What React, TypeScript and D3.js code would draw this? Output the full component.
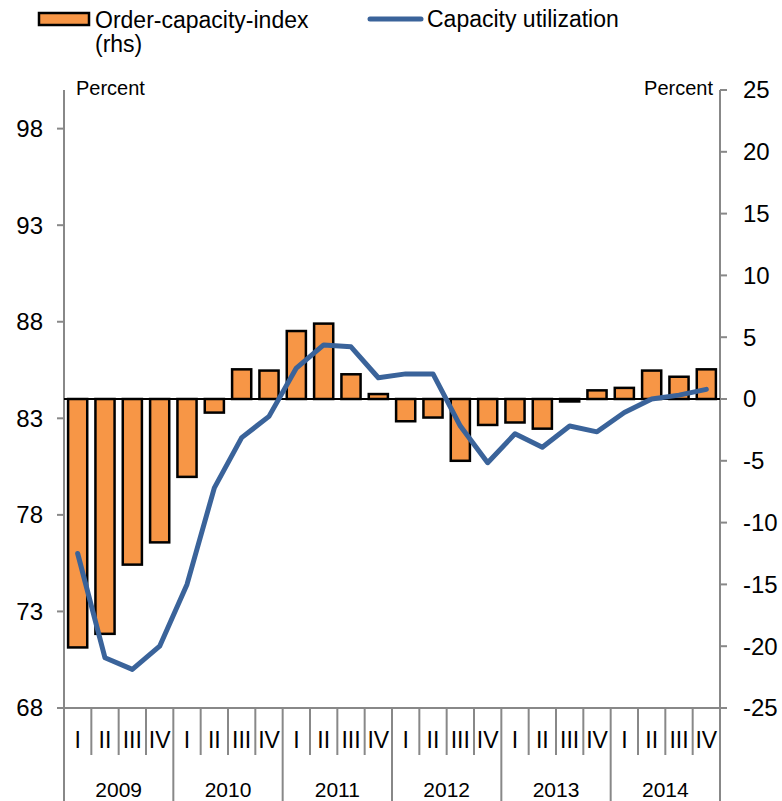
import React from "react";
import * as d3 from "d3";

const years = ["2009", "2010", "2011", "2012", "2013", "2014"];
const quarters = ["I", "II", "III", "IV"];
const categories = years.flatMap((y) => quarters.map((q) => `${y}-${q}`));

// Order-capacity-index (rhs), percent
const orderCapacity = [
  -20.1, -19.0, -13.4, -11.6, -6.3, -1.1, 2.4, 2.3, 5.5, 6.1, 2.0, 0.4,
  -1.8, -1.5, -5.0, -2.1, -1.9, -2.4, -0.2, 0.7, 0.9, 2.3, 1.8, 2.4,
];
// Capacity utilization (lhs), percent
const capacityUtil = [
  76.0, 70.6, 70.0, 71.2, 74.4, 79.4, 82.0, 83.1, 85.6, 86.8, 86.7, 85.1,
  85.3, 85.3, 82.6, 80.7, 82.2, 81.5, 82.6, 82.3, 83.3, 84.0, 84.2, 84.5,
];
const leftTicks = [68, 73, 78, 83, 88, 93, 98];
const rightTicks = [-25, -20, -15, -10, -5, 0, 5, 10, 15, 20, 25];

const W = 782;
const H = 801;
const x0 = 64;
const x1 = 720;
const yTop = 90;
const yBot = 708;
const FONT = "'Liberation Sans', Arial, sans-serif";
const GRAY = "#888888";
const ORANGE = "#F79646";
const BLUE = "#3A639A";

export default function App() {
  const x = d3
    .scaleBand<string>()
    .domain(categories)
    .range([x0, x1])
    .paddingInner(0.3)
    .paddingOuter(0.15);
  const step = x.step();
  const yL = d3.scaleLinear().domain([68, 100]).range([yBot, yTop]);
  const yR = d3.scaleLinear().domain([-25, 25]).range([yBot, yTop]);

  const line = d3
    .line<number>()
    .x((_, i) => (x(categories[i]) as number) + x.bandwidth() / 2)
    .y((d) => yL(d));

  const catLeft = (i: number) => x0 + i * (x1 - x0) / categories.length;

  return (
    <svg
      width={W}
      height={H}
      style={{ position: "absolute", left: 0, top: 0, background: "#fff" }}
      fontFamily={FONT}
    >
      <rect x={0} y={0} width={W} height={H} fill="#fff" />
      {/* Legend */}
      <rect x={39} y={13} width={50} height={12} fill={ORANGE} stroke="#000" strokeWidth={2.5} />
      <text x={95} y={28} fontSize={23} fill="#000">Order-capacity-index</text>
      <text x={95} y={52} fontSize={23} fill="#000">(rhs)</text>
      <line x1={370} x2={421} y1={19} y2={19} stroke={BLUE} strokeWidth={5} strokeLinecap="round" />
      <text x={427} y={27} fontSize={23} fill="#000">Capacity utilization</text>

      {/* Percent labels */}
      <text x={76} y={95} fontSize={20} fill="#000">Percent</text>
      <text x={713} y={95} fontSize={20} fill="#000" textAnchor="end">Percent</text>

      {/* Axes */}
      <line x1={x0} x2={x0} y1={yTop} y2={H} stroke={GRAY} strokeWidth={2} />
      <line x1={x1} x2={x1} y1={yTop} y2={H} stroke={GRAY} strokeWidth={2} />
      <line x1={x0} x2={x1} y1={yBot} y2={yBot} stroke={GRAY} strokeWidth={2} />
      {leftTicks.map((t) => (
        <g key={`l${t}`}>
          <line x1={x0 - 7} x2={x0} y1={yL(t)} y2={yL(t)} stroke={GRAY} strokeWidth={2} />
          <text x={43} y={yL(t)} dy="0.35em" fontSize={24} textAnchor="end" fill="#000">
            {t}
          </text>
        </g>
      ))}
      {rightTicks.map((t) => (
        <g key={`r${t}`}>
          <line x1={x1} x2={x1 + 7} y1={yR(t)} y2={yR(t)} stroke={GRAY} strokeWidth={2} />
          <text x={743} y={yR(t)} dy="0.35em" fontSize={24} textAnchor="start" fill="#000">
            {t}
          </text>
        </g>
      ))}

      {/* Category separators */}
      {categories.map((c, i) =>
        i === 0 ? null : (
          <line
            key={`s${c}`}
            x1={catLeft(i)}
            x2={catLeft(i)}
            y1={yBot}
            y2={i % 4 === 0 ? H : 755}
            stroke={GRAY}
            strokeWidth={2}
          />
        )
      )}
      {categories.map((c, i) => (
        <text
          key={`q${c}`}
          x={(x(c) as number) + x.bandwidth() / 2}
          y={748}
          fontSize={23}
          textAnchor="middle"
          fill="#000"
        >
          {quarters[i % 4]}
        </text>
      ))}
      {years.map((yr, j) => (
        <text
          key={`y${yr}`}
          x={(catLeft(j * 4) + catLeft(j * 4 + 4)) / 2}
          y={797}
          fontSize={21}
          textAnchor="middle"
          fill="#000"
        >
          {yr}
        </text>
      ))}

      {/* Bars */}
      {orderCapacity.map((v, i) => (
        <rect
          key={`b${i}`}
          x={x(categories[i]) as number}
          y={Math.min(yR(v), yR(0))}
          width={x.bandwidth()}
          height={Math.abs(yR(v) - yR(0))}
          fill={ORANGE}
          stroke="#000"
          strokeWidth={2.5}
        />
      ))}
      <line x1={x0} x2={x1} y1={yR(0)} y2={yR(0)} stroke="#000" strokeWidth={2} />

      {/* Line */}
      <path
        d={line(capacityUtil) || ""}
        fill="none"
        stroke={BLUE}
        strokeWidth={5}
        strokeLinejoin="round"
        strokeLinecap="round"
      />
    </svg>
  );
}
